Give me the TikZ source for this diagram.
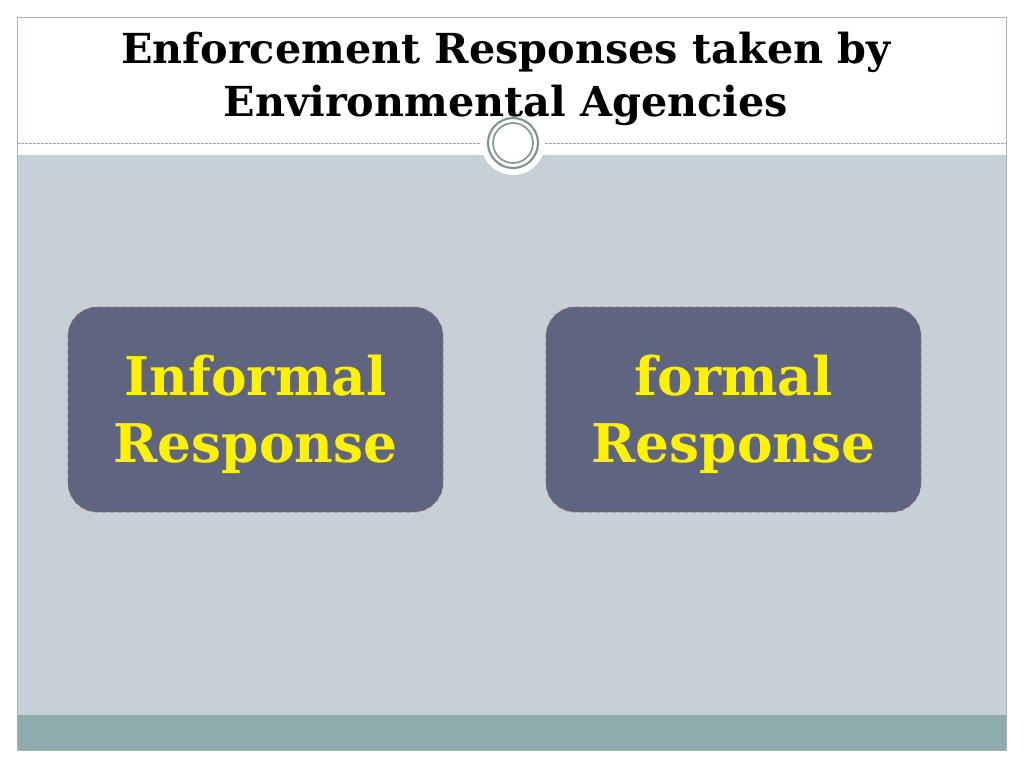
\documentclass[tikz,border=0pt]{standalone}
\usepackage{fontspec}
\setmainfont{DejaVu Serif}
\definecolor{panel}{HTML}{C5D1D6}
\definecolor{band}{HTML}{8EACAD}
\definecolor{ring}{HTML}{7F9393}
\definecolor{boxfill}{HTML}{5F6580}
\definecolor{boxline}{HTML}{B06060}
\begin{document}
\begin{tikzpicture}[x=0.75pt,y=-0.75pt,
  resp/.style={draw=boxline,dashed,line width=0.6pt,fill=boxfill,rounded corners=22pt,
    minimum width=375*0.75pt,minimum height=205*0.75pt,inner sep=0pt},
  resptext/.style={align=center,text=yellow,font=\bfseries\fontsize{40}{50}\selectfont,inner sep=0pt}]
\useasboundingbox (0,0) rectangle (1024,768);
\fill[white] (0,0) rectangle (1024,768);
\fill[panel] (17,155) rectangle (1006,715);
\fill[band] (17,715) rectangle (1006,750);
\draw[ring!70,line width=0.6pt] (17,17) rectangle (1006,750);
\draw[ring!80,dashed,dash pattern=on 2pt off 1pt,line width=0.5pt] (17,143) -- (1006,143);
\fill[white] (513,143) circle (32*0.75pt);
\draw[ring,line width=1.6pt] (513,143) circle (25*0.75pt);
\draw[ring,line width=1.2pt] (513,143) circle (20*0.75pt);
\node[font=\bfseries\fontsize{31}{40}\selectfont,align=center] (title) at (506,79)
  {Enforcement Responses taken by\\Environmental Agencies};
\node[resp] (inf) at (255.5,409.5) {};
\node[resp] (frm) at (733.5,409.5) {};
\node[resptext] (inft) at (255.5,414) {Informal\\Response};
\node[resptext] (frmt) at (733.5,414) {formal\\Response};
\end{tikzpicture}
\end{document}
